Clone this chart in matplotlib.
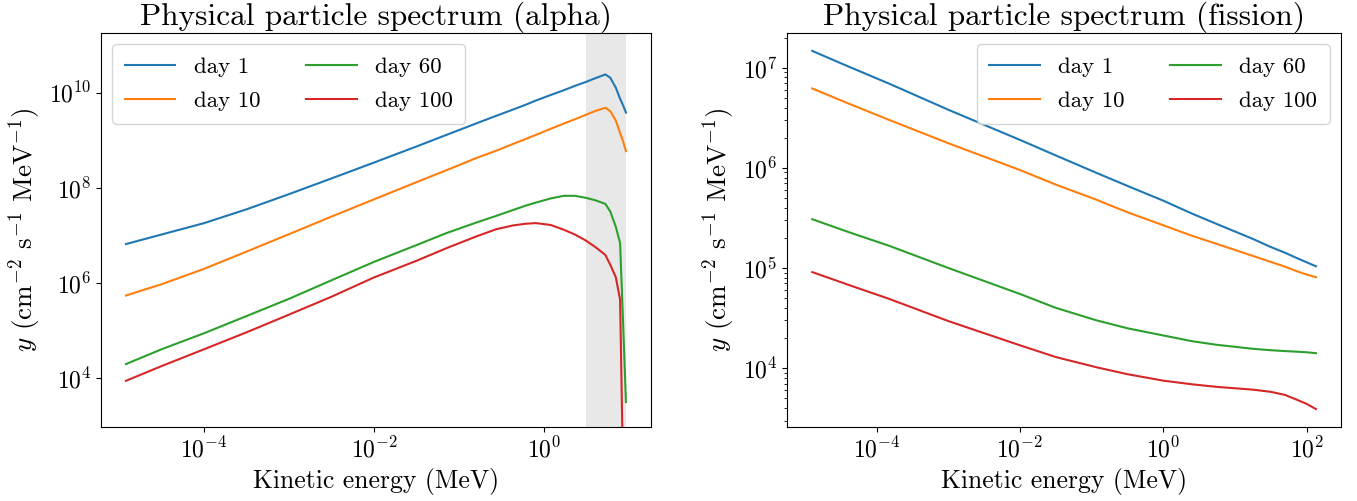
import numpy as np
import matplotlib
matplotlib.use("Agg")
import matplotlib.pyplot as plt
from matplotlib.ticker import NullLocator

plt.rcParams['font.family'] = 'serif'
plt.rcParams['font.serif'] = ['cmr10']
plt.rcParams['mathtext.fontset'] = 'cm'
plt.rcParams['axes.unicode_minus'] = False
plt.rcParams['axes.formatter.use_mathtext'] = True

labels = ["day 1", "day 10", "day 60", "day 100"]
colors = ["tab:blue", "tab:orange", "tab:green", "tab:red"]

# alpha spectrum (MeV, cm^-2 s^-1 MeV^-1)
alpha_energy = [1.2e-5, 3.16e-5, 1e-4, 3.16e-4, 1e-3, 3.16e-3, 1e-2, 3.16e-2, 7.08e-2,
                0.158, 0.272, 0.427, 0.6, 0.8, 1.2, 1.71, 2.3, 3.08, 4.0, 5.27,
                6.03, 7.0, 7.85, 8.51, 9.2]
alpha_day1 = [6.6e6, 1.05e7, 1.82e7, 3.55e7, 7.4e7, 1.58e8, 3.4e8, 7.4e8, 1.29e9,
              2.24e9, 3.24e9, 4.37e9, 5.5e9, 6.8e9, 8.9e9, 1.12e10, 1.38e10, 1.66e10,
              2.0e10, 2.4e10, 2.04e10, 1.26e10, 7.4e9, 5.4e9, 3.8e9]
alpha_day10 = [5.5e5, 9.5e5, 2.0e6, 4.6e6, 1.07e7, 2.5e7, 5.75e7, 1.32e8, 2.34e8,
               4.2e8, 6.0e8, 8.3e8, 1.05e9, 1.29e9, 1.74e9, 2.24e9, 2.75e9, 3.4e9,
               4.1e9, 4.8e9, 4.07e9, 2.57e9, 1.41e9, 9.5e8, 5.9e8]
alpha_day60 = [2.0e4, 4.1e4, 8.9e4, 2.04e5, 4.7e5, 1.15e6, 2.8e6, 6.3e6, 1.12e7,
               1.86e7, 2.57e7, 3.4e7, 4.2e7, 4.9e7, 6.0e7, 6.8e7, 6.8e7, 6.2e7,
               5.5e7, 4.6e7, 3.16e7, 1.51e7, 6.9e6, 1.45e5, 3.2e3]
alpha_day100 = [8.9e3, 1.82e4, 4.1e4, 9.3e4, 2.19e5, 5.2e5, 1.32e6, 2.95e6, 5.4e6,
                9.5e6, 1.35e7, 1.62e7, 1.76e7, 1.82e7, 1.66e7, 1.32e7, 1.05e7, 7.9e6,
                5.75e6, 3.9e6, 2.4e6, 1.32e6, 4.5e5, 1.0e2, np.nan]
alpha_band = (3.13, 9.2)

# fission spectrum
fission_energy = [1.26e-5, 4.0e-5, 1.51e-4, 1e-3, 1e-2, 3.16e-2, 0.117, 0.316, 1.0,
                  2.5, 5.57, 17.8, 31.6, 50.0, 72.4, 100.0, 135]
fission_day1 = [1.47e7, 1.03e7, 6.9e6, 3.8e6, 1.9e6, 1.33e6, 8.9e5, 6.6e5, 4.7e5,
                3.5e5, 2.75e5, 1.95e5, 1.62e5, 1.42e5, 1.26e5, 1.14e5, 1.04e5]
fission_day10 = [6.2e6, 4.4e6, 3.0e6, 1.76e6, 9.5e5, 6.8e5, 4.8e5, 3.6e5, 2.67e5,
                 2.1e5, 1.74e5, 1.32e5, 1.15e5, 1.03e5, 9.3e4, 8.6e4, 8.1e4]
fission_day60 = [3.07e5, 2.29e5, 1.66e5, 1.0e5, 5.5e4, 4.0e4, 3.0e4, 2.5e4, 2.12e4,
                 1.86e4, 1.71e4, 1.56e4, 1.51e4, 1.48e4, 1.46e4, 1.44e4, 1.41e4]
fission_day100 = [9.1e4, 6.8e4, 4.9e4, 2.95e4, 1.69e4, 1.29e4, 1.02e4, 8.7e3, 7.5e3,
                  6.9e3, 6.5e3, 6.1e3, 5.8e3, 5.4e3, 4.85e3, 4.4e3, 3.9e3]

fig = plt.figure(figsize=(13.57, 5.01), dpi=100)
ax1 = fig.add_axes([0.0744, 0.1477, 0.4053, 0.7864])
ax2 = fig.add_axes([0.580, 0.1477, 0.4083, 0.7864])

ax1.axvspan(*alpha_band, color='#e8e8e8', lw=0, zorder=0)
for y, lab, c in zip([alpha_day1, alpha_day10, alpha_day60, alpha_day100], labels, colors):
    ax1.plot(alpha_energy, y, color=c, label=lab, lw=1.5)
for y, lab, c in zip([fission_day1, fission_day10, fission_day60, fission_day100], labels, colors):
    ax2.plot(fission_energy, y, color=c, label=lab, lw=1.5)

for ax in (ax1, ax2):
    ax.set_xscale('log')
    ax.set_yscale('log')
    ax.set_xlabel("Kinetic energy (MeV)", fontsize=18.5)
    ax.set_ylabel(r"$y$ (cm$^{-2}$ s$^{-1}$ MeV$^{-1}$)", fontsize=19.5)
    ax.tick_params(labelsize=17)

ax1.set_ylim(10**2.98, 10**11.25)
ax1.set_xticks([1e-4, 1e-2, 1])
ax1.xaxis.set_minor_locator(NullLocator())
ax1.yaxis.set_minor_locator(NullLocator())

ax1.set_title("Physical particle spectrum (alpha)", fontsize=22.5, pad=5)
ax2.set_title("Physical particle spectrum (fission)", fontsize=22.5, pad=5)
leg_kw = dict(ncol=2, fontsize=16.5, handlelength=2.2, handletextpad=0.8,
              columnspacing=2.0, labelspacing=0.6, borderpad=0.55)
ax1.legend(loc='upper left', **leg_kw)
ax2.legend(loc='upper right', **leg_kw)

fig.savefig("out.png", dpi=100)
